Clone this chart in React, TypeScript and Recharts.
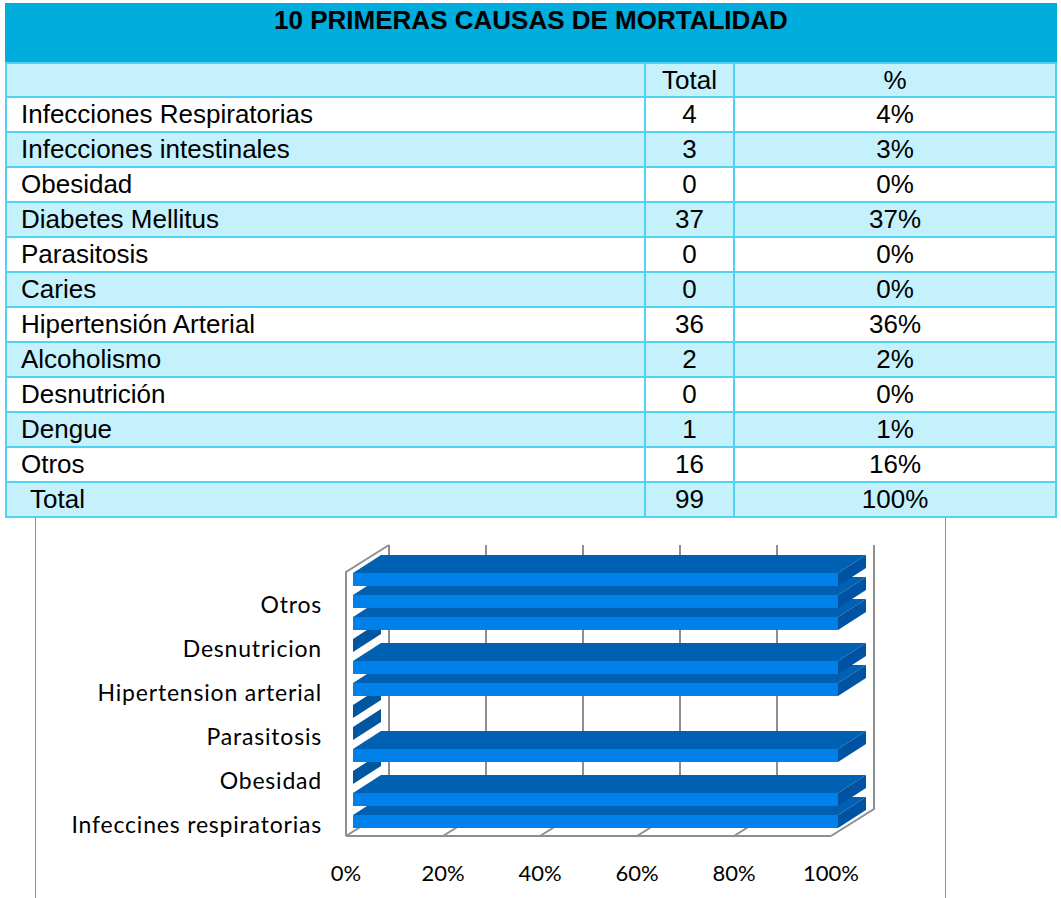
import { BarChart, Bar, XAxis, YAxis, CartesianGrid } from "recharts";

// tabla
const causes = [
    "Infecciones Respiratorias",
    "Infecciones intestinales",
    "Obesidad",
    "Diabetes Mellitus",
    "Parasitosis",
    "Caries",
    "Hipertensión Arterial",
    "Alcoholismo",
    "Desnutrición",
    "Dengue",
    "Otros"
];
const totals = [4, 3, 0, 37, 0, 0, 36, 2, 0, 1, 16];
const percents = ["4%", "3%", "0%", "37%", "0%", "0%", "36%", "2%", "0%", "1%", "16%"];
const grandTotal = 99;
const grandPercent = "100%";

// grafico (bottom to top)
const chartCategories = [
    "Infeccines respiratorias",
    "Infecciones intestinales",
    "Obesidad",
    "Diabetes mellitus",
    "Parasitosis",
    "Caries",
    "Hipertension arterial",
    "Alcoholismo",
    "Desnutricion",
    "Dengue",
    "Otros",
    "Total"
];
const chartTotals = [4, 3, 0, 37, 0, 0, 36, 2, 0, 1, 16, 99];
const percentTicks = [0, 0.2, 0.4, 0.6, 0.8, 1];

const chartData = chartCategories.map((name, i) => ({ name, total: chartTotals[i] }));

const CYAN = "#00ADDC";
const LIGHT = "#C5F1FD";
const BORDER = "#4FD2F3";
const GRID = "#8E8E8E";

// 3d look
const DEPTH_X = 43;
const DEPTH_Y = -27;
const BAR_DX = 28;
const BAR_DY = -18;
const INSET_X = 7;
const INSET_Y = -4;

function Bar3D(props: any) {
    const { x, y, width, height } = props;
    const fx = x + INSET_X;
    const fy = y + INSET_Y;
    const w = Math.max(0, width || 0);
    if (w < 0.5) {
        return (
            <polygon
                points={`${fx},${fy} ${fx + BAR_DX},${fy + BAR_DY} ${fx + BAR_DX},${fy + height + BAR_DY} ${fx},${fy + height}`}
                fill="#00569F"
            />
        );
    }
    return (
        <g>
            <polygon
                points={`${fx},${fy} ${fx + BAR_DX},${fy + BAR_DY} ${fx + w + BAR_DX},${fy + BAR_DY} ${fx + w},${fy}`}
                fill="#0061B3"
            />
            <polygon
                points={`${fx + w},${fy} ${fx + w + BAR_DX},${fy + BAR_DY} ${fx + w + BAR_DX},${fy + height + BAR_DY} ${fx + w},${fy + height}`}
                fill="#0053A2"
            />
            <rect x={fx} y={fy} width={w} height={height} fill="#0080E9" />
        </g>
    );
}

function WallLine(props: any) {
    const { x1, y1, y2, index } = props;
    const bx = x1 + DEPTH_X;
    let d = `M${x1},${y2} L${bx},${y2 + DEPTH_Y} L${bx},${y1 + DEPTH_Y}`;
    if (index === 0) {
        d += ` M${x1},${y2} L${x1},${y1} L${bx},${y1 + DEPTH_Y}`;
    }
    return <path key={`wall-${index}`} d={d} fill="none" stroke={GRID} strokeWidth={2} />;
}

const cell: React.CSSProperties = {
    display: "flex",
    alignItems: "center",
    fontSize: 26,
    color: "#000"
};

export default function App() {
    const rows = causes.map((c, i) => ({ c, t: totals[i], p: percents[i] }));

    return (
        <div
            style={{
                position: "absolute",
                left: 0,
                top: 0,
                width: 1061,
                height: 898,
                background: "#fff",
                fontFamily: "'Liberation Sans', Arial, sans-serif",
                overflow: "hidden"
            }}
        >
            <div
                style={{
                    position: "absolute",
                    left: 35,
                    top: 516,
                    width: 909,
                    height: 390,
                    borderLeft: "1px solid #8f8f8f",
                    borderRight: "1px solid #8f8f8f"
                }}
            />

            <div style={{ position: "absolute", left: 0, top: 0 }}>
                <BarChart
                    width={1061}
                    height={898}
                    data={chartData}
                    layout="vertical"
                    stackOffset="expand"
                    barSize={13}
                    margin={{ top: 572, right: 230, bottom: 22, left: 0 }}
                >
                    <CartesianGrid horizontal={false} vertical={WallLine} />
                    <XAxis
                        type="number"
                        domain={[0, 1]}
                        ticks={percentTicks}
                        tickFormatter={(v: number) => `${Math.round(v * 100)}%`}
                        height={40}
                        tickLine={false}
                        tickMargin={23}
                        axisLine={{ stroke: GRID, strokeWidth: 2 }}
                        tick={{ fill: "#000", fontSize: 22, fontFamily: "Lato" }}
                    />
                    <YAxis
                        type="category"
                        dataKey="name"
                        reversed
                        width={346}
                        interval={1}
                        tickLine={false}
                        axisLine={false}
                        tickMargin={18}
                        tick={{ fill: "#000", fontSize: 23, fontFamily: "Lato", letterSpacing: 0.8 }}
                    />
                    <Bar
                        dataKey="total"
                        stackId="a"
                        shape={Bar3D}
                        isAnimationActive={false}
                    />
                </BarChart>
            </div>

            <div
                style={{
                    position: "absolute",
                    left: 5,
                    top: 3,
                    width: 1052,
                    boxSizing: "border-box",
                    padding: 2,
                    background: BORDER,
                    display: "grid",
                    gridTemplateColumns: "637px 87px 320px",
                    gridTemplateRows: `57px 32px repeat(12, 33px)`,
                    gap: 2
                }}
            >
                <div
                    style={{
                        gridColumn: "1 / 4",
                        background: CYAN,
                        fontWeight: "bold",
                        fontSize: 26,
                        textAlign: "center",
                        lineHeight: "30px",
                        margin: "-2px -2px 0 -2px",
                        paddingTop: 2
                    }}
                >
                    10 PRIMERAS CAUSAS DE MORTALIDAD
                </div>
                <div style={{ ...cell, background: LIGHT }} />
                <div style={{ ...cell, background: LIGHT, justifyContent: "center" }}>Total</div>
                <div style={{ ...cell, background: LIGHT, justifyContent: "center" }}>%</div>
                {rows.map((r, i) => {
                    const bg = i % 2 === 0 ? "#fff" : LIGHT;
                    return [
                        <div key={`c${i}`} style={{ ...cell, background: bg, paddingLeft: 14 }}>{r.c}</div>,
                        <div key={`t${i}`} style={{ ...cell, background: bg, justifyContent: "center" }}>{r.t}</div>,
                        <div key={`p${i}`} style={{ ...cell, background: bg, justifyContent: "center" }}>{r.p}</div>
                    ];
                })}
                <div style={{ ...cell, background: LIGHT, paddingLeft: 23 }}>Total</div>
                <div style={{ ...cell, background: LIGHT, justifyContent: "center" }}>{grandTotal}</div>
                <div style={{ ...cell, background: LIGHT, justifyContent: "center" }}>{grandPercent}</div>
            </div>
        </div>
    );
}
